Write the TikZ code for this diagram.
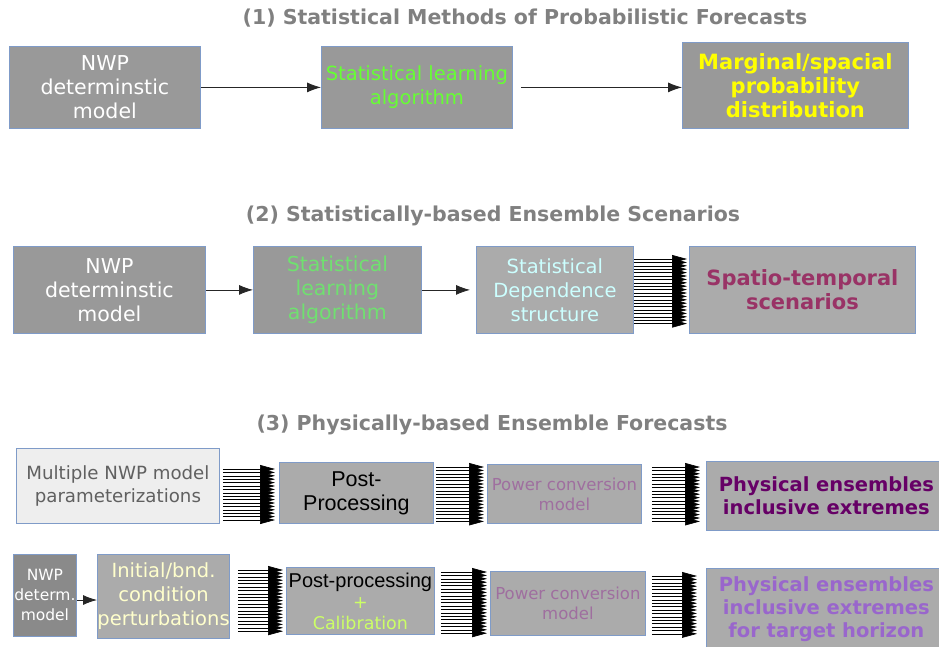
\documentclass[tikz,border=0pt]{standalone}
\usepackage{fontspec}
\setmainfont{DejaVu Sans}
\newfontfamily\arialfont{Liberation Sans}
\usetikzlibrary{arrows.meta}

\definecolor{titlegray}{HTML}{808080}
\definecolor{boxline}{HTML}{7F9BC8}
\definecolor{darkfill}{HTML}{999999}
\definecolor{midfill}{HTML}{ABABAB}
\definecolor{lightfill}{HTML}{EEEEEE}
\definecolor{nwpfill}{HTML}{8A8A8A}
\definecolor{learngreen}{HTML}{66FF33}
\definecolor{learnlight}{HTML}{70E070}
\definecolor{margyellow}{HTML}{FFFF00}
\definecolor{depcyan}{HTML}{CCFFFF}
\definecolor{spatred}{HTML}{993366}
\definecolor{powpurple}{HTML}{9F6F9F}
\definecolor{physdark}{HTML}{660066}
\definecolor{physlight}{HTML}{9966CC}
\definecolor{pertyellow}{HTML}{FFFFCC}
\definecolor{calgreen}{HTML}{CCFF66}
\definecolor{multgray}{HTML}{606060}

\begin{document}
\begin{tikzpicture}[x = 1pt, y = -1pt,
	box/.style = {draw = boxline, line width = 0.8pt, align = center, inner sep = 0pt, anchor = north west},
	big/.style = {font = \fontsize{20.5}{24}\selectfont},
	mid/.style = {font = \fontsize{19.5}{24}\selectfont},
	bigbold/.style = {font = \fontsize{21}{24}\selectfont\bfseries},
	midbold/.style = {font = \fontsize{19.5}{23}\selectfont\bfseries},
	title/.style = {font = \fontsize{20.5}{24}\selectfont\bfseries, text = titlegray},
	link/.style = {-{Latex[length = 14pt, width = 10pt]}, line width = 0.8pt, black!85},
	fan/.style = {-{Triangle[length = 15pt, width = 8pt]}, line width = 0.6pt, black}]
	%	frame
	\useasboundingbox (0, 0) rectangle (939, 646);
	
	%	titles
	\node[title] (tone) at (525, 18) {(1) Statistical Methods of Probabilistic Forecasts};
	\node[title] (ttwo) at (493, 216) {(2) Statistically-based Ensemble Scenarios};
	\node[title] (tthree) at (492, 425) {(3) Physically-based Ensemble Forecasts};
	
	%	row 1
	\node[box, big, fill = darkfill, text = white, minimum width = 191pt, minimum height = 82pt] (nwpa) at (9, 46) {NWP\\determinstic\\model};
	\node[box, mid, fill = darkfill, text = learngreen, minimum width = 191pt, minimum height = 82pt] (learna) at (321, 46) {Statistical learning\\algorithm};
	\node[box, bigbold, fill = darkfill, text = margyellow, minimum width = 226pt, minimum height = 86pt] (marga) at (682, 42) {Marginal/spacial\\probability\\distribution};
	
	\draw[link] (nwpa) -- (learna);
	\draw[link] ([xshift = 8pt]learna.east) -- (marga.west |- learna.east);
	
	%	row 2
	\node[box, big, fill = darkfill, text = white, minimum width = 192pt, minimum height = 87pt] (nwpb) at (13, 246) {NWP\\determinstic\\model};
	\node[box, big, fill = darkfill, text = learnlight, minimum width = 168pt, minimum height = 87pt] (learnb) at (253, 246) {Statistical\\learning\\algorithm};
	\node[box, mid, fill = midfill, text = depcyan, minimum width = 157pt, minimum height = 87pt] (depb) at (476, 246) {Statistical\\Dependence\\structure};
	\node[box, bigbold, fill = midfill, text = spatred, minimum width = 226pt, minimum height = 87pt] (spatb) at (689, 246) {Spatio-temporal\\scenarios};
	
	\draw[link] (nwpb) -- (learnb);
	\draw[link] (learnb.east) -- ([xshift = -6pt]depb.west);
	\foreach \y in {259, 262.4, ..., 325}
		\draw[fan] (depb.east |- 0, \y) -- ([xshift = -2pt]spatb.west |- 0, \y);
	
	%	row 3, multiple parameterizations
	\node[box, fill = lightfill, text = multgray, font = \fontsize{18.2}{23}\selectfont, minimum width = 203pt, minimum height = 75pt] (multa) at (16, 448) {Multiple NWP model\\parameterizations};
	\node[box, fill = midfill, text = black, font = \arialfont\fontsize{21.5}{24}\selectfont, minimum width = 154pt, minimum height = 61pt] (posta) at (279, 462) {Post-\\Processing};
	\node[box, fill = midfill, text = powpurple, font = \fontsize{16.5}{20}\selectfont, minimum width = 154pt, minimum height = 59pt] (powa) at (487, 464) {Power conversion\\model};
	\node[box, midbold, fill = midfill, text = physdark, minimum width = 240pt, minimum height = 69pt] (physa) at (706, 461) {Physical ensembles\\inclusive extremes};
	
	\foreach \y in {469, 472.4, ..., 523}
		\draw[fan] ([xshift = 3pt]multa.east |- 0, \y) -- ([xshift = -4pt]posta.west |- 0, \y);
	\foreach \y in {467, 470.4, ..., 523}
		\draw[fan] ([xshift = 2pt]posta.east |- 0, \y) -- ([xshift = -3pt]powa.west |- 0, \y);
	\foreach \y in {467, 470.4, ..., 524}
		\draw[fan] ([xshift = 10pt]powa.east |- 0, \y) -- ([xshift = -6pt]physa.west |- 0, \y);
	
	%	row 3, initial condition perturbations
	\node[box, fill = nwpfill, text = white, font = \fontsize{15.5}{20}\selectfont, minimum width = 63pt, minimum height = 82pt] (nwpc) at (13, 554) {NWP\\determ.\\model};
	\node[box, mid, fill = midfill, text = pertyellow, minimum width = 132pt, minimum height = 84pt] (pertc) at (97, 554) {Initial/bnd.\\condition\\perturbations};
	\node[box, fill = midfill, text = calgreen, font = \fontsize{17.5}{21}\selectfont, minimum width = 148pt, minimum height = 67pt] (postc) at (286, 567) {{\arialfont\fontsize{20}{21}\selectfont\color{black}Post-processing}\\+\\Calibration};
	\node[box, fill = midfill, text = powpurple, font = \fontsize{16.5}{20}\selectfont, minimum width = 155pt, minimum height = 64pt] (powc) at (490, 571) {Power conversion\\model};
	\node[box, midbold, fill = midfill, text = physlight, minimum width = 240pt, minimum height = 82pt] (physc) at (706, 568) {Physical ensembles\\inclusive extremes\\for target horizon};
	
	\draw[link] (nwpc.east |- 0, 600) -- (pertc.west |- 0, 600);
	\foreach \y in {570, 573.4, ..., 634}
		\draw[fan] ([xshift = 8pt]pertc.east |- 0, \y) -- ([xshift = -3pt]postc.west |- 0, \y);
	\foreach \y in {572, 575.4, ..., 634}
		\draw[fan] ([xshift = 6pt]postc.east |- 0, \y) -- ([xshift = -3pt]powc.west |- 0, \y);
	\foreach \y in {576, 579.4, ..., 635}
		\draw[fan] ([xshift = 6pt]powc.east |- 0, \y) -- ([xshift = -9pt]physc.west |- 0, \y);
\end{tikzpicture}
\end{document}
